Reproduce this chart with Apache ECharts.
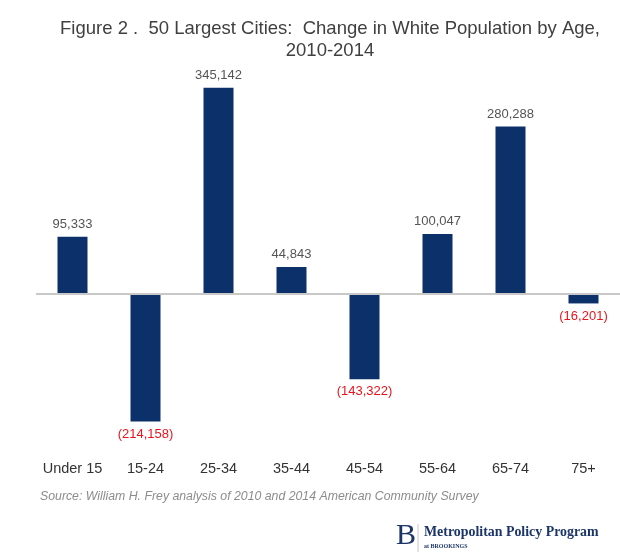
<!DOCTYPE html>
<html>
<head>
<meta charset="utf-8">
<script src="https://cdn.jsdelivr.net/npm/echarts@6/dist/echarts.min.js"></script>
<style>html,body{margin:0;padding:0;background:#fff}#c{width:620px;height:560px}</style>
</head>
<body>
<div id="c"></div>
<script>
var categories = ['Under 15', '15-24', '25-34', '35-44', '45-54', '55-64', '65-74', '75+'];
var values = [95333, -214158, 345142, 44843, -143322, 100047, 280288, -16201];

function fmt(v) {
  var s = Math.abs(v).toString().replace(/\B(?=(\d{3})+(?!\d))/g, ',');
  return v < 0 ? '(' + s + ')' : s;
}

var chart = echarts.init(document.getElementById('c'), null, {renderer: 'canvas'});
var font = '"Liberation Sans", Arial, sans-serif';
chart.setOption({
  animation: false,
  backgroundColor: '#fff',
  title: {
    text: 'Figure 2 .  50 Largest Cities:  Change in White Population by Age,\n2010-2014',
    left: 325, top: 13, textAlign: 'center',
    textStyle: {fontFamily: font, fontSize: 18.5, fontWeight: 'normal', color: '#404040', lineHeight: 22}
  },
  grid: {left: 36, width: 584, top: 55, height: 388, containLabel: false},
  xAxis: {
    type: 'category', data: categories,
    axisLine: {show: false}, axisTick: {show: false},
    axisLabel: {fontFamily: font, fontSize: 14.5, color: '#333', margin: 18, interval: 0}
  },
  yAxis: {type: 'value', min: -250000, max: 400000, show: false, splitLine: {show: false}},
  series: [{
    type: 'bar', data: values.map(function (v) {
      return {value: v, label: {position: v < 0 ? 'bottom' : 'top', color: v < 0 ? '#e8141c' : '#555'}};
    }),
    barWidth: 30,
    itemStyle: {color: '#0c3069'},
    label: {show: true, fontFamily: font, fontSize: 13, distance: 6,
      formatter: function (p) { return fmt(p.value); }},
    markLine: {
      silent: true, symbol: 'none', label: {show: false},
      lineStyle: {color: '#c8c8c8', width: 2, type: 'solid'},
      data: [{yAxis: 0}]
    },
    z: 3
  }],
  graphic: [
    {type: 'text', left: 40, top: 491, style: {text: 'Source: William H. Frey analysis of 2010 and 2014 American Community Survey',
      font: 'italic 12.3px "Liberation Sans", Arial, sans-serif', fill: '#8c8c8c'}},
    {type: 'text', left: 396, top: 521, style: {text: 'B', font: '30px "Liberation Serif", "DejaVu Serif", serif', fill: '#1c3568'}},
    {type: 'line', shape: {x1: 418, y1: 524, x2: 418, y2: 552}, style: {stroke: '#c8c8c8', lineWidth: 1}},
    {type: 'text', left: 424, top: 525, style: {text: 'Metropolitan Policy Program', font: 'bold 13.9px "Liberation Serif", "DejaVu Serif", serif', fill: '#1c3568'}},
    {type: 'text', left: 424, top: 543, style: {text: 'at BROOKINGS', font: 'bold 6px "Liberation Serif", "DejaVu Serif", serif', fill: '#1c3568'}}
  ]
});
</script>
</body>
</html>
